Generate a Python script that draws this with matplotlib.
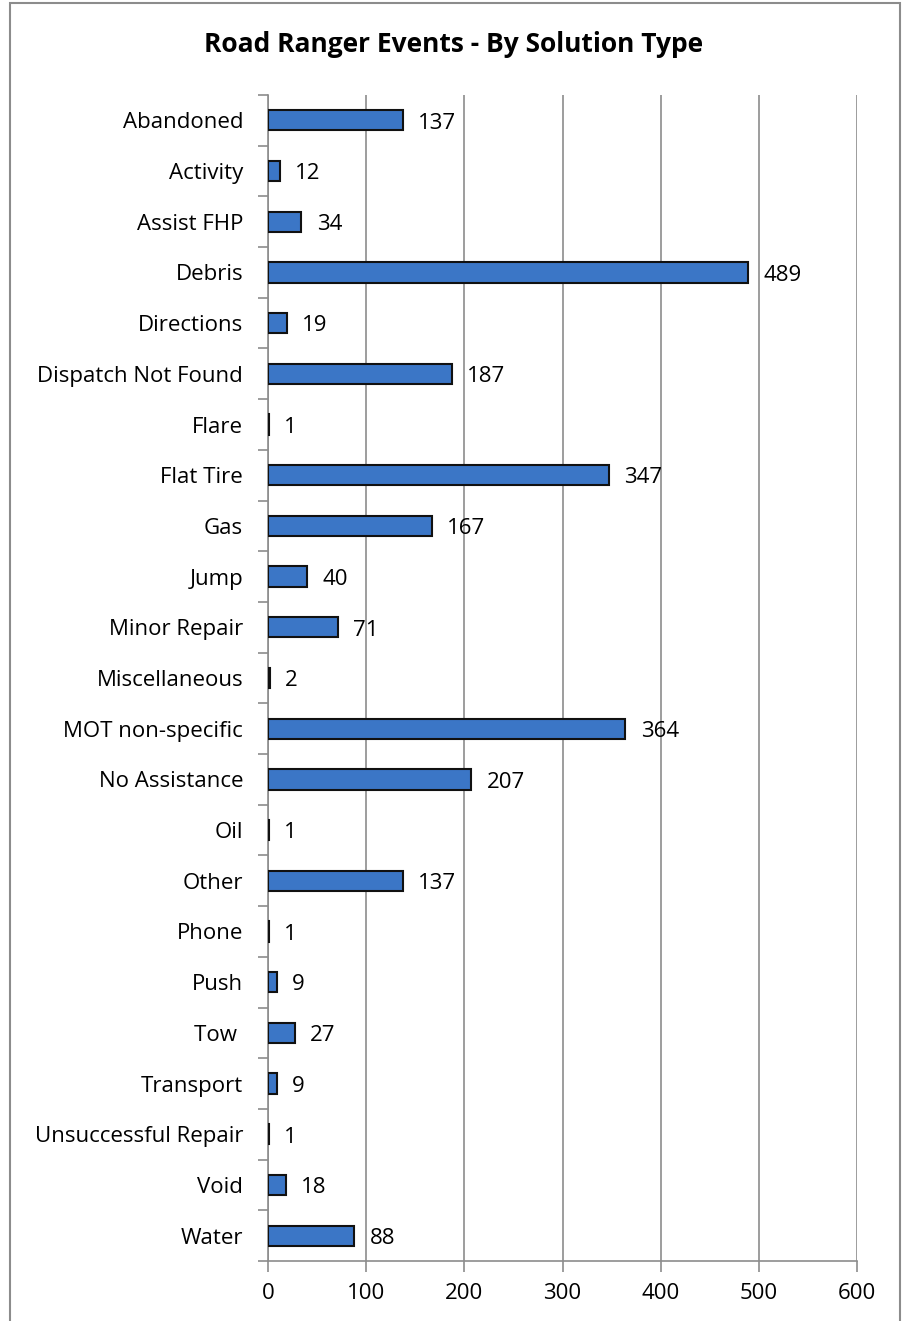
import numpy as np
import matplotlib.pyplot as plt
from matplotlib.patches import Rectangle
from matplotlib.ticker import MultipleLocator, FixedLocator

categories = ['Abandoned', 'Activity', 'Assist FHP', 'Debris', 'Directions',
              'Dispatch Not Found', 'Flare', 'Flat Tire', 'Gas', 'Jump',
              'Minor Repair', 'Miscellaneous', 'MOT non-specific',
              'No Assistance', 'Oil', 'Other', 'Phone', 'Push', 'Tow ',
              'Transport', 'Unsuccessful Repair', 'Void', 'Water']
counts = [137, 12, 34, 489, 19, 187, 1, 347, 167, 40, 71, 2, 364, 207, 1,
          137, 1, 9, 27, 9, 1, 18, 88]

plt.rcParams['font.family'] = ['Open Sans', 'DejaVu Sans']

fig = plt.figure(figsize=(9.08, 13.21), dpi=100)
ax = fig.add_axes([0.2952, 0.0454, 0.6487, 0.8827])

y = np.arange(len(categories))
bars = ax.barh(y, counts, height=0.4, color='#3b76c6', edgecolor='#111111',
               linewidth=1.5, zorder=3)

for rect, v in zip(bars, counts):
    ax.annotate(str(v), (rect.get_width(), rect.get_y() + rect.get_height() / 2),
                xytext=(11, -2), textcoords='offset points',
                ha='left', va='center', fontsize=16, color='black', zorder=4)

ax.set_xlim(0, 600)
ax.set_ylim(len(categories) - 0.5, -0.5)
ax.xaxis.set_major_locator(MultipleLocator(100))
ax.set_yticks(y)
ax.set_yticklabels(categories, fontsize=16)
ax.yaxis.set_minor_locator(FixedLocator(np.arange(-0.5, len(categories), 1)))
ax.tick_params(axis='y', which='major', length=0, pad=18)
ax.tick_params(axis='y', which='minor', length=7, color='#8c8c8c', width=1.2)
ax.tick_params(axis='x', length=8, color='#8c8c8c', width=1.2, labelsize=16,
               pad=8)

ax.grid(axis='x', color='#8c8c8c', linewidth=1.2, zorder=0)
for side in ['top', 'right']:
    ax.spines[side].set_visible(False)
for side in ['left', 'bottom']:
    ax.spines[side].set_color('#8c8c8c')
    ax.spines[side].set_linewidth(1.2)

fig.text(0.5, 0.966, 'Road Ranger Events - By Solution Type', ha='center',
         va='center', fontsize=19, fontweight='bold')

# outer chart frame
fig.patches.append(Rectangle((10 / 908, -0.01), 890 / 908, 1.01 - 3 / 1321,
                             transform=fig.transFigure, fill=False,
                             edgecolor='#8c8c8c', linewidth=1.5))

fig.savefig('out.png', dpi=100)
